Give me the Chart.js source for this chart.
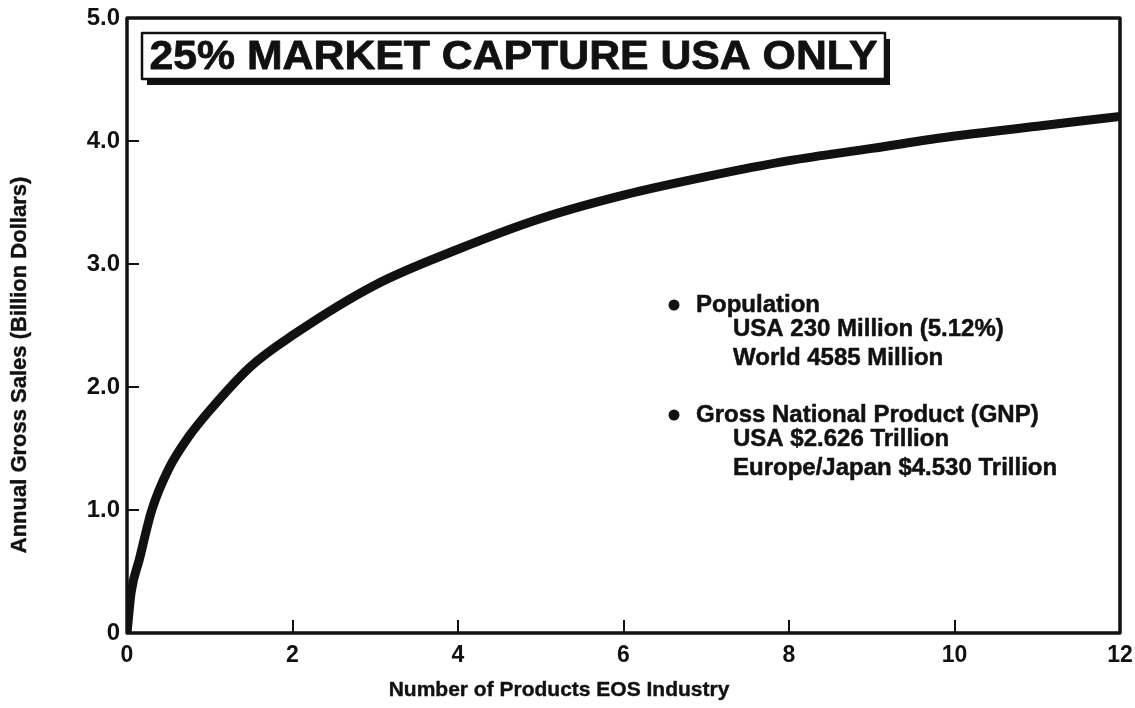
<!DOCTYPE html>
<html lang="en">
<head>
<meta charset="UTF-8">
<title>25% Market Capture USA Only</title>
<script src="https://cdn.jsdelivr.net/npm/chart.js"></script>
<style>
  html, body { margin: 0; padding: 0; background: #fff; }
  canvas { display: block; }
</style>
</head>
<body>
<canvas id="salesChart" width="1135" height="708"></canvas>
<script>
  // values
  const productCounts = [0, 0.05, 0.15, 0.3, 0.5, 0.75, 1, 1.5, 2, 3, 4, 5, 6, 7, 8, 9, 10, 11, 12];
  const grossSales = [0, 0.33, 0.6, 1.0, 1.33, 1.6, 1.81, 2.17, 2.42, 2.83, 3.12, 3.37, 3.56, 3.71, 3.84, 3.94, 4.04, 4.12, 4.2];
  const xTicks = [0, 2, 4, 6, 8, 10, 12];
  const yTicks = [0, 1, 2, 3, 4, 5];

  const headline = '25% MARKET CAPTURE USA ONLY';
  const xTitle = 'Number of Products EOS Industry';
  const yTitle = 'Annual Gross Sales (Billion Dollars)';
  const noteHeads = ['Population', 'Gross National Product (GNP)'];
  const noteLines = [
    ['USA 230 Million (5.12%)', 'World 4585 Million'],
    ['USA $2.626 Trillion', 'Europe/Japan $4.530 Trillion']
  ];

  const ink = '#111';
  const font = '"Liberation Sans", Arial, Helvetica, sans-serif';

  function heavyText(ctx, t, x, y, w) {
    ctx.lineWidth = w;
    ctx.strokeText(t, x, y);
    ctx.fillText(t, x, y);
  }

  // frame, inward ticks, titles, headline box and notes
  const decorations = {
    id: 'decorations',
    afterDraw(chart) {
      const { ctx, chartArea: a, scales } = chart;
      const x = scales.x, y = scales.y;
      ctx.save();
      ctx.strokeStyle = ink;
      ctx.fillStyle = ink;
      ctx.lineJoin = 'round';

      ctx.lineWidth = 3.5;
      ctx.strokeRect(a.left, a.top, a.right - a.left, a.bottom - a.top);

      ctx.lineWidth = 2;
      ctx.beginPath();
      yTicks.slice(1, -1).forEach(v => {
        const py = Math.round(y.getPixelForValue(v));
        ctx.moveTo(a.left, py); ctx.lineTo(a.left + 12, py);
      });
      xTicks.slice(1, -1).forEach(v => {
        const px = Math.round(x.getPixelForValue(v));
        ctx.moveTo(px, a.bottom); ctx.lineTo(px, a.bottom - 13);
      });
      ctx.stroke();

      ctx.textAlign = 'center';
      ctx.textBaseline = 'middle';
      ctx.font = 'bold 21px ' + font;
      heavyText(ctx, xTitle, 559, 690, 0.4);
      ctx.save();
      ctx.translate(20, 365);
      ctx.rotate(-Math.PI / 2);
      ctx.font = 'bold 22px ' + font;
      heavyText(ctx, yTitle, 0, 0, 0.4);
      ctx.restore();

      // headline box with drop shadow
      const bx = 142, by = 33, bw = 743, bh = 46;
      ctx.fillRect(bx + 5, by + 6, bw, bh);
      ctx.fillStyle = '#fff';
      ctx.fillRect(bx, by, bw, bh);
      ctx.lineWidth = 2.5;
      ctx.strokeRect(bx, by, bw, bh);
      ctx.fillStyle = ink;
      ctx.font = 'bold 41px ' + font;
      const tw = ctx.measureText(headline).width;
      ctx.save();
      ctx.translate(bx + bw / 2, by + bh / 2 + 2);
      ctx.scale(728 / tw, 1);
      heavyText(ctx, headline, 0, 0, 0.8);
      ctx.restore();

      // notes
      ctx.textAlign = 'left';
      ctx.font = 'bold 24px ' + font;
      const headY = [305, 415];
      noteHeads.forEach((h, i) => {
        ctx.beginPath();
        ctx.arc(674, headY[i], 5.5, 0, Math.PI * 2);
        ctx.fill();
        heavyText(ctx, h, 696, headY[i], 0.5);
        noteLines[i].forEach((t, j) => heavyText(ctx, t, 733, headY[i] + 24 + j * 29, 0.5));
      });
      ctx.restore();
    }
  };

  new Chart(document.getElementById('salesChart'), {
    type: 'line',
    data: {
      datasets: [{
        data: productCounts.map((v, i) => ({ x: v, y: grossSales[i] })),
        borderColor: ink,
        borderWidth: 9,
        pointRadius: 0,
        cubicInterpolationMode: 'monotone',
        fill: false
      }]
    },
    options: {
      responsive: false,
      animation: false,
      devicePixelRatio: 1,
      layout: { padding: { top: 18, right: 15, left: 0, bottom: 0 } },
      plugins: { legend: { display: false }, tooltip: { enabled: false } },
      scales: {
        x: {
          type: 'linear', min: 0, max: 12,
          afterFit: s => { s.height = 75; s.paddingLeft = 0; s.paddingRight = 0; },
          afterBuildTicks: s => { s.ticks = xTicks.map(v => ({ value: v })); },
          grid: { display: false, drawTicks: false },
          border: { display: false },
          ticks: { color: ink, padding: 9, maxRotation: 0, font: { family: font, size: 23, weight: 'bold' } }
        },
        y: {
          type: 'linear', min: 0, max: 5,
          afterFit: s => { s.width = 127; s.paddingTop = 0; s.paddingBottom = 0; },
          afterBuildTicks: s => { s.ticks = yTicks.map(v => ({ value: v })); },
          grid: { display: false, drawTicks: false },
          border: { display: false },
          ticks: {
            color: ink, padding: 7, font: { family: font, size: 24, weight: 'bold' },
            callback: v => v === 0 ? '0' : v.toFixed(1)
          }
        }
      }
    },
    plugins: [decorations]
  });
</script>
</body>
</html>
